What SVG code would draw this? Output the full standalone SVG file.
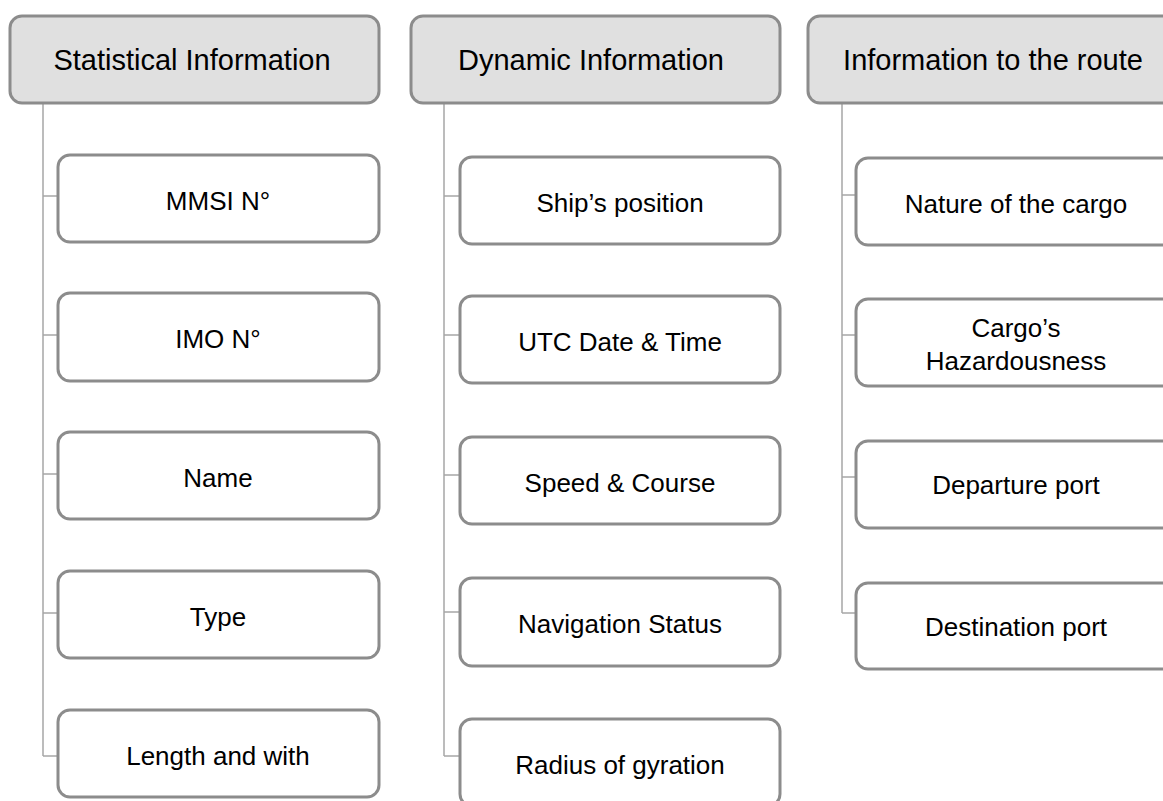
<svg xmlns="http://www.w3.org/2000/svg" width="1163" height="801" viewBox="0 0 1163 801">
<style>
.hdr{fill:#e0e0e0;stroke:#8c8c8c;stroke-width:3}
.box{fill:#ffffff;stroke:#8c8c8c;stroke-width:3}
.ht{font-family:"Liberation Sans",Arial,sans-serif;font-size:29px;fill:#000;text-anchor:middle}
.bt{font-family:"Liberation Sans",Arial,sans-serif;font-size:26px;fill:#000;text-anchor:middle}
.con{fill:none;stroke:#a6a6a6;stroke-width:1.5}
</style>
<rect width="1163" height="801" fill="#ffffff"/>
<g id="connectors">
<path class="con" d="M43,103 V756 M43,196 H58 M43,335 H58 M43,474 H58 M43,613 H58 M43,756 H58"/>
<path class="con" d="M444,103 V756 M444,196 H460 M444,335 H460 M444,475 H460 M444,612 H460 M444,756 H460"/>
<path class="con" d="M842,103 V613 M842,195 H856 M842,335 H856 M842,477 H856 M842,613 H856"/>
</g>
<g id="h1"><rect class="hdr" x="10" y="16" width="369" height="87" rx="12"/><text class="ht" x="192" y="70">Statistical Information</text></g>
<g id="h2"><rect class="hdr" x="411" y="16" width="369" height="87" rx="12"/><text class="ht" x="591" y="70">Dynamic Information</text></g>
<g id="h3"><rect class="hdr" x="808" y="16" width="369" height="87" rx="12"/><text class="ht" x="993" y="70">Information to the route</text></g>

<g id="c1a"><rect class="box" x="58" y="155" width="321" height="87" rx="12"/><text class="bt" x="218" y="210">MMSI N°</text></g>
<g id="c1b"><rect class="box" x="58" y="293" width="321" height="88" rx="12"/><text class="bt" x="218" y="348">IMO N°</text></g>
<g id="c1c"><rect class="box" x="58" y="432" width="321" height="87" rx="12"/><text class="bt" x="218" y="487">Name</text></g>
<g id="c1d"><rect class="box" x="58" y="571" width="321" height="87" rx="12"/><text class="bt" x="218" y="626">Type</text></g>
<g id="c1e"><rect class="box" x="58" y="710" width="321" height="87" rx="12"/><text class="bt" x="218" y="765">Length and with</text></g>

<g id="c2a"><rect class="box" x="460" y="157" width="320" height="87" rx="12"/><text class="bt" x="620" y="212">Ship’s position</text></g>
<g id="c2b"><rect class="box" x="460" y="296" width="320" height="87" rx="12"/><text class="bt" x="620" y="351">UTC Date &amp; Time</text></g>
<g id="c2c"><rect class="box" x="460" y="437" width="320" height="87" rx="12"/><text class="bt" x="620" y="492">Speed &amp; Course</text></g>
<g id="c2d"><rect class="box" x="460" y="578" width="320" height="88" rx="12"/><text class="bt" x="620" y="633">Navigation Status</text></g>
<g id="c2e"><rect class="box" x="460" y="719" width="320" height="87" rx="12"/><text class="bt" x="620" y="774">Radius of gyration</text></g>

<g id="c3a"><rect class="box" x="856" y="158" width="321" height="87" rx="12"/><text class="bt" x="1016" y="213">Nature of the cargo</text></g>
<g id="c3b"><rect class="box" x="856" y="299" width="321" height="87" rx="12"/><text class="bt" x="1016" y="337">Cargo’s</text><text class="bt" x="1016" y="370">Hazardousness</text></g>
<g id="c3c"><rect class="box" x="856" y="441" width="321" height="87" rx="12"/><text class="bt" x="1016" y="494">Departure port</text></g>
<g id="c3d"><rect class="box" x="856" y="583" width="321" height="86" rx="12"/><text class="bt" x="1016" y="636">Destination port</text></g>
</svg>
